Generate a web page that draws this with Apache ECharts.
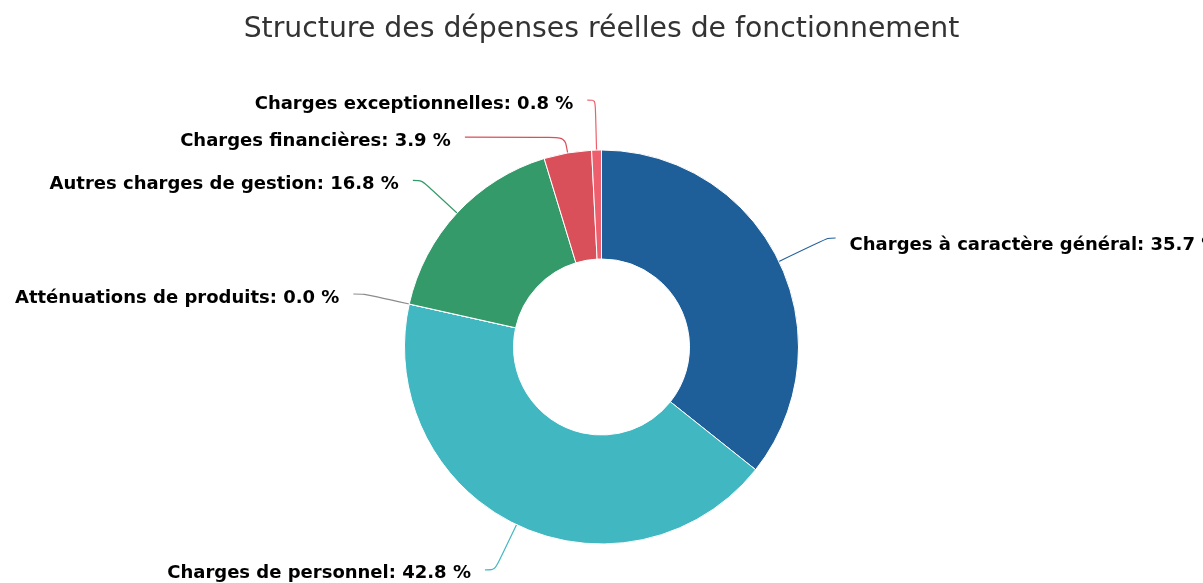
<!DOCTYPE html>
<html>
<head>
<meta charset="utf-8">
<script src="https://cdn.jsdelivr.net/npm/echarts@6/dist/echarts.min.js"></script>
<style>
  html, body {margin: 0; padding: 0; background: #fff;}
  #chart {width: 1203px; height: 583px;}
</style>
</head>
<body>
<div id="chart"></div>
<script>
const categories = [
  'Charges à caractère général',
  'Charges de personnel',
  'Atténuations de produits',
  'Autres charges de gestion',
  'Charges financières',
  'Charges exceptionnelles'
];
const shares = [35.7, 42.8, 0.0, 16.8, 3.9, 0.8];
const colors = ['#1f5f99', '#41b8c1', '#8c8c8c', '#359a69', '#d9505a', '#ee5f6d'];
// label line lengths per slice (radial, horizontal) and vertical text nudge
const lineLen = [[54, 8], [50, 10], [46, 11], [48, 9], [16, 100], [50, 8]];
const labelDy = [7, 4, 4, 4, 4, 4];

const chart = echarts.init(document.getElementById('chart'));
chart.setOption({
  animation: false,
  title: {
    text: 'Structure des dépenses réelles de fonctionnement',
    left: 'center',
    top: 11,
    textStyle: {
      fontFamily: 'DejaVu Sans',
      fontSize: 28.3,
      fontWeight: 'normal',
      color: '#333'
    }
  },
  series: [{
    type: 'pie',
    center: ['50%', 347],
    radius: [88, 197],
    startAngle: 90,
    clockwise: true,
    avoidLabelOverlap: false,
    itemStyle: {borderColor: '#fff', borderWidth: 1},
    label: {
      formatter: p => p.name + ': ' + p.value.toFixed(1) + ' %',
      fontFamily: 'DejaVu Sans',
      fontWeight: 'bold',
      fontSize: 18,
      color: '#000',
      distanceToLabelLine: 14,
      overflow: 'none'
    },
    labelLine: {smooth: 0.3, lineStyle: {width: 1.2}},
    data: categories.map((name, i) => ({
      name,
      value: shares[i],
      itemStyle: {color: colors[i]},
      label: {offset: [0, labelDy[i]]},
      labelLine: {length: lineLen[i][0], length2: lineLen[i][1]}
    }))
  }]
});
</script>
</body>
</html>
